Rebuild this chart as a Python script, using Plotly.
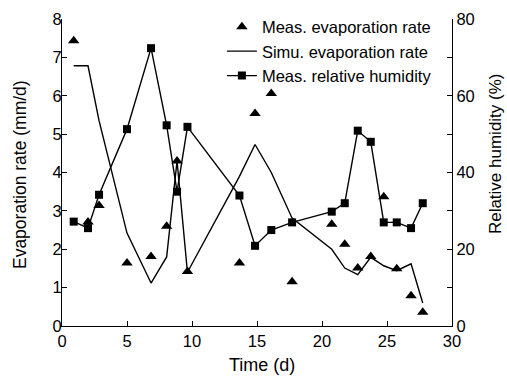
import plotly.graph_objects as go

# Measured evaporation rate (mm/d)
meas_day = [0.9, 2.0, 2.85, 5.0, 6.85, 8.05, 8.85, 9.65, 13.65, 14.85, 16.1, 17.7,
            20.75, 21.75, 22.75, 23.75, 24.75, 25.75, 26.85, 27.75]
meas_evap = [7.43, 2.71, 3.14, 1.64, 1.81, 2.6, 4.3, 1.42, 1.64, 5.54, 6.06, 1.15,
             2.65, 2.13, 1.51, 1.81, 3.37, 1.49, 0.79, 0.36]

# Simulated evaporation rate (mm/d)
sim_day = [0.9, 2.0, 2.85, 5.0, 6.85, 8.05, 8.85, 9.65, 13.65, 14.85, 16.1, 17.7,
           20.75, 21.75, 22.75, 23.75, 24.75, 25.75, 26.85, 27.75]
sim_evap = [6.78, 6.78, 5.35, 2.42, 1.12, 1.8, 4.3, 1.4, 3.9, 4.73, 4.0, 2.81,
            2.0, 1.51, 1.34, 1.79, 1.57, 1.44, 1.62, 0.6]

# Measured relative humidity (%)
rh_day = [0.9, 2.0, 2.85, 5.0, 6.85, 8.05, 8.85, 9.65, 13.65, 14.85, 16.1, 17.7,
          20.75, 21.75, 22.75, 23.75, 24.75, 25.75, 26.85, 27.75]
rh = [27.2, 25.5, 34.2, 51.3, 72.4, 52.3, 35.0, 51.9, 34.0, 20.9, 25.0, 27.0,
      29.8, 32.0, 50.9, 48.0, 27.0, 27.0, 25.5, 32.0]

x_ticks = [0, 5, 10, 15, 20, 25, 30]
y_ticks = [0, 1, 2, 3, 4, 5, 6, 7, 8]
y2_ticks = [0, 10, 20, 30, 40, 50, 60, 70, 80]
y2_text = ["0", "", "20", "", "40", "", "60", "", "80"]

x_title = "Time (d)"
y_title = "Evaporation rate (mm/d)"
y2_title = "Relative humidity (%)"

FONT = "Arial, 'Liberation Sans', sans-serif"

fig = go.Figure()
fig.add_trace(go.Scatter(
    x=meas_day, y=meas_evap, mode="markers", name="Meas. evaporation rate",
    marker=dict(symbol="triangle-up", size=10, color="black")))
fig.add_trace(go.Scatter(
    x=sim_day, y=sim_evap, mode="lines", name="Simu. evaporation rate",
    line=dict(color="black", width=1.4)))
fig.add_trace(go.Scatter(
    x=rh_day, y=rh, mode="lines+markers", name="Meas. relative humidity", yaxis="y2",
    line=dict(color="black", width=1.4),
    marker=dict(symbol="square", size=8, color="black")))

axis_common = dict(showline=True, linecolor="black", linewidth=1.2, ticks="inside",
                   ticklen=5, tickwidth=1.2, tickcolor="black", showgrid=False,
                   zeroline=False, automargin=False,
                   tickfont=dict(size=16.5, color="black", family=FONT))

fig.update_layout(
    width=507, height=378,
    margin=dict(l=62, r=55, t=19, b=52, autoexpand=False),
    paper_bgcolor="white", plot_bgcolor="white",
    font=dict(family=FONT, color="black"),
    showlegend=True,
    legend=dict(x=0.41, y=0.975, xanchor="left", yanchor="top",
                xref="paper", yref="container",
                bgcolor="rgba(0,0,0,0)", font=dict(size=16.5, family=FONT, color="black"),
                itemwidth=30, tracegroupgap=0),
    xaxis=dict(range=[0, 30], tickvals=x_ticks, **axis_common),
    yaxis=dict(range=[0, 8], tickvals=y_ticks, ticklabelstandoff=-4, **axis_common),
    yaxis2=dict(range=[0, 80], tickvals=y2_ticks, ticktext=y2_text, overlaying="y",
                side="right", **axis_common),
    annotations=[
        dict(text=x_title, xref="paper", yref="paper", x=0.514, y=-0.127,
             xanchor="center", yanchor="middle", showarrow=False,
             font=dict(size=18, family=FONT, color="black")),
        dict(text=y_title, xref="paper", yref="paper", x=-0.1077, y=0.495,
             xanchor="center", yanchor="middle", showarrow=False, textangle=-90,
             font=dict(size=17.5, family=FONT, color="black")),
        dict(text=y2_title, xref="paper", yref="paper", x=1.1103, y=0.56,
             xanchor="center", yanchor="middle", showarrow=False, textangle=-90,
             font=dict(size=17, family=FONT, color="black")),
    ],
)

fig.write_html("out.html")
